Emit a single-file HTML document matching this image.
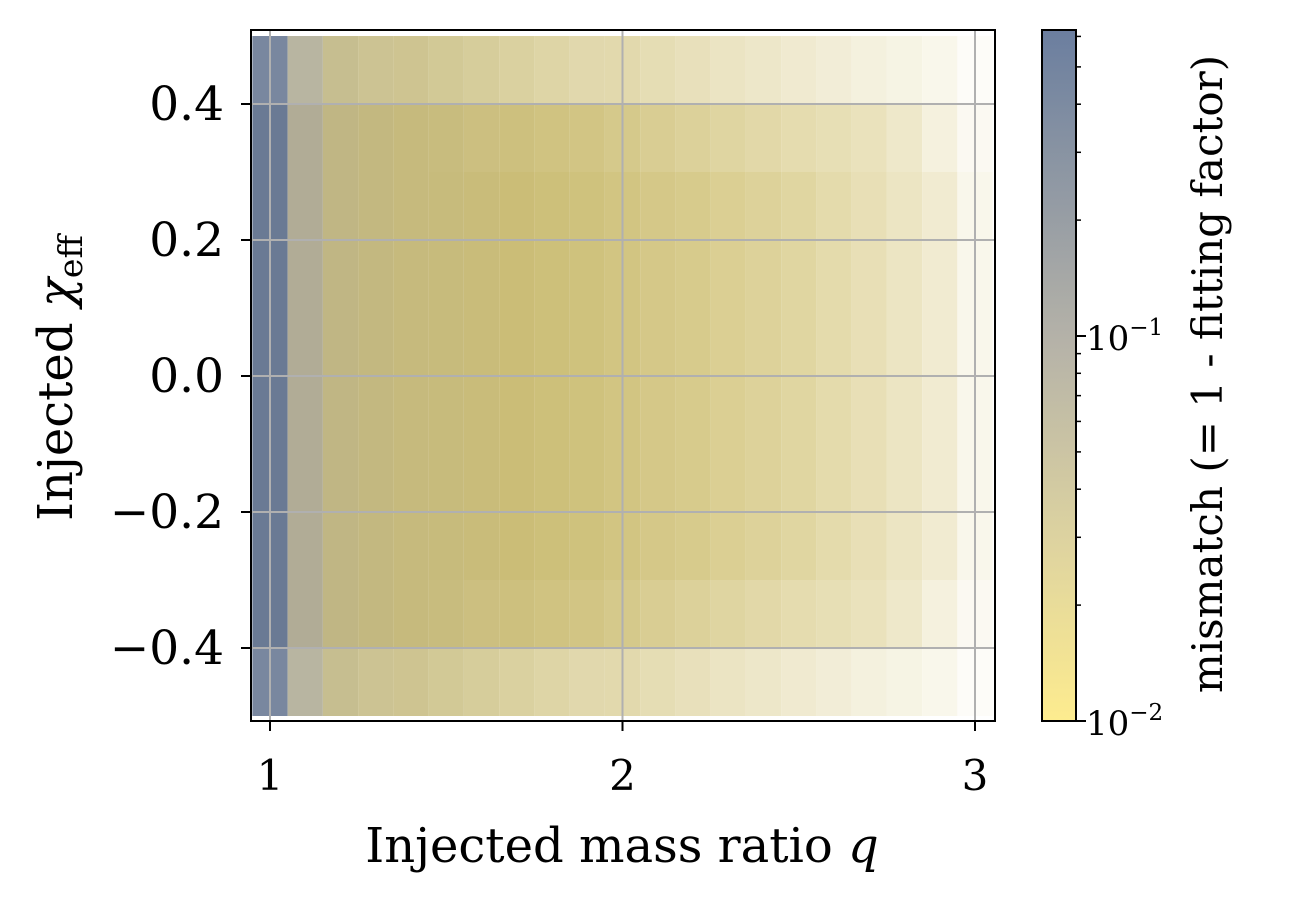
<!DOCTYPE html>
<html><head><meta charset="utf-8"><style>
html,body{margin:0;padding:0;background:#fff;}
svg{display:block;font-family:"DejaVu Serif","Liberation Serif",serif;}
</style></head><body>
<svg id="chart" width="1290" height="902" viewBox="0 0 1290 902">
<g id="cells"></g>
<g id="grid"></g>
<rect x="251" y="30" width="744" height="691" fill="none" stroke="#000" stroke-width="2"/>
<g id="xticks"></g>
<g id="yticks"></g>
<text x="622" y="862" font-size="48" text-anchor="middle">Injected mass ratio <tspan font-style="italic">q</tspan></text>
<text transform="translate(72,378) rotate(-90)" font-size="48" text-anchor="middle">Injected <tspan font-style="italic">χ</tspan><tspan font-size="33" dy="10">eff</tspan></text>
<defs><linearGradient id="cbgrad" x1="0" y1="1" x2="0" y2="0"></linearGradient></defs>
<rect x="1042" y="30" width="34" height="691" fill="url(#cbgrad)"/>
<rect x="1042" y="30" width="34" height="691" fill="none" stroke="#000" stroke-width="2"/>
<g id="cbticks"></g>
<text x="1086" y="350" font-size="34">10<tspan font-size="23" dy="-15">−1</tspan></text>
<text x="1086" y="735" font-size="34">10<tspan font-size="23" dy="-15">−2</tspan></text>
<text transform="translate(1222,374) rotate(-90)" font-size="42" text-anchor="middle">mismatch (= 1 - fitting factor)</text>
</svg>
<script>
const qCenters=[1.0,1.1,1.2,1.3,1.4,1.5,1.6,1.7,1.8,1.9,2.0,2.1,2.2,2.3,2.4,2.5,2.6,2.7,2.8,2.9,3.0];
const chiCenters=[0.45,0.35,0.25,0.15,0.05,-0.05,-0.15,-0.25,-0.35,-0.45];
const mismatchByQ=[0.3,0.08,0.05,0.045,0.042,0.04,0.038,0.036,0.035,0.034,0.033,0.032,0.031,0.03,0.03,0.029,0.029,0.028,0.028,0.027,0.027];
const densEdge=[0.9,0.9,0.9,0.85,0.85,0.8,0.75,0.7,0.65,0.6,0.6,0.55,0.5,0.45,0.4,0.35,0.3,0.25,0.2,0.15,0.05];
const densNear=[1,1,1,1,1,0.98,0.95,0.95,0.92,0.9,0.85,0.8,0.75,0.7,0.65,0.6,0.55,0.5,0.4,0.25,0.1];
const densMid=[1,1,1,1,1,1,1,1,0.97,0.95,0.92,0.88,0.85,0.8,0.75,0.7,0.62,0.55,0.45,0.35,0.15];
const density=[densEdge,densNear,densMid,densMid,densMid,densMid,densMid,densMid,densNear,densEdge];
const xTicks=[1,2,3];
const yTicks=[0.4,0.2,0.0,-0.2,-0.4];
const yTickLabels=["0.4","0.2","0.0","−0.2","−0.4"];
const cbMinor=[0.02,0.03,0.04,0.05,0.06,0.07,0.08,0.09,0.2,0.3,0.4,0.5,0.6];

const NS="http://www.w3.org/2000/svg";
const X=q=>270+(q-1)*352.5;
const Y=c=>376-c*680;
const CB=m=>721-(Math.log10(m)+2)*385;
const stops=[[0,[253,234,140]],[0.3,[204,190,118]],[0.55,[170,168,158]],[0.8,[110,125,150]],[1,[70,95,135]]];
const cbStops=[[0,[253,236,143]],[0.27,[220,210,160]],[0.55,[181,178,168]],[1,[106,126,159]]];
function interp(st,m){let t=(Math.log10(m)+2)/1.8;t=Math.max(0,Math.min(1,t));
 for(let i=1;i<st.length;i++){if(t<=st[i][0]){const a=st[i-1],b=st[i];const f=(t-a[0])/(b[0]-a[0]);
 return a[1].map((v,k)=>v+(b[1][k]-v)*f);}}return st[st.length-1][1];}
const cmap=m=>interp(stops,m);
function mk(tag,attrs,parent){const e=document.createElementNS(NS,tag);for(const k in attrs)e.setAttribute(k,attrs[k]);parent.appendChild(e);return e;}

const cells=document.getElementById('cells');
chiCenters.forEach((c,ri)=>{qCenters.forEach((q,ci)=>{
 const d=density[ri][ci];const col=cmap(mismatchByQ[ci]);
 const rgb=col.map(v=>Math.round(255*(1-d)+v*d));
 let x0=Math.max(251,X(q-0.05)),x1=Math.min(995,X(q+0.05));
 let y0=Math.max(30,Y(c+0.05)),y1=Math.min(721,Y(c-0.05));
 const r=mk('rect',{x:x0,y:y0,width:x1-x0,height:y1-y0,fill:`rgb(${rgb})`},cells);
 
 
});});

const grid=document.getElementById('grid');
xTicks.forEach(q=>{const l=mk('line',{x1:X(q),x2:X(q),y1:30,y2:721,stroke:'#b0b0b0','stroke-width':2},grid);
 });
yTicks.forEach(c=>{const l=mk('line',{x1:251,x2:995,y1:Y(c),y2:Y(c),stroke:'#b0b0b0','stroke-width':2},grid);
 });

const xt=document.getElementById('xticks');
xTicks.forEach(q=>{mk('line',{x1:X(q),x2:X(q),y1:721,y2:731,stroke:'#000','stroke-width':2},xt);
 const t=mk('text',{x:X(q),y:790,'font-size':42,'text-anchor':'middle'},xt);t.textContent=String(q);
 });
const yt=document.getElementById('yticks');
yTicks.forEach((c,i)=>{mk('line',{x1:241,x2:251,y1:Y(c),y2:Y(c),stroke:'#000','stroke-width':2},yt);
 const t=mk('text',{x:224,y:Y(c)+16,'font-size':47,'text-anchor':'end'},yt);t.textContent=yTickLabels[i];
 });

const g=document.getElementById('cbgrad');
for(let i=0;i<=20;i++){const t=i/20;const m=Math.pow(10,-2+t*(Math.log10(0.62)+2));
 mk('stop',{offset:t,'stop-color':`rgb(${interp(cbStops,m).map(Math.round)})`},g);}
const cbt=document.getElementById('cbticks');
[0.01,0.1].forEach(m=>mk('line',{x1:1076,x2:1086,y1:CB(m),y2:CB(m),stroke:'#000','stroke-width':2},cbt));
cbMinor.forEach(m=>mk('line',{x1:1076,x2:1081,y1:CB(m),y2:CB(m),stroke:'#000','stroke-width':1.5},cbt));
</script>
</body></html>
